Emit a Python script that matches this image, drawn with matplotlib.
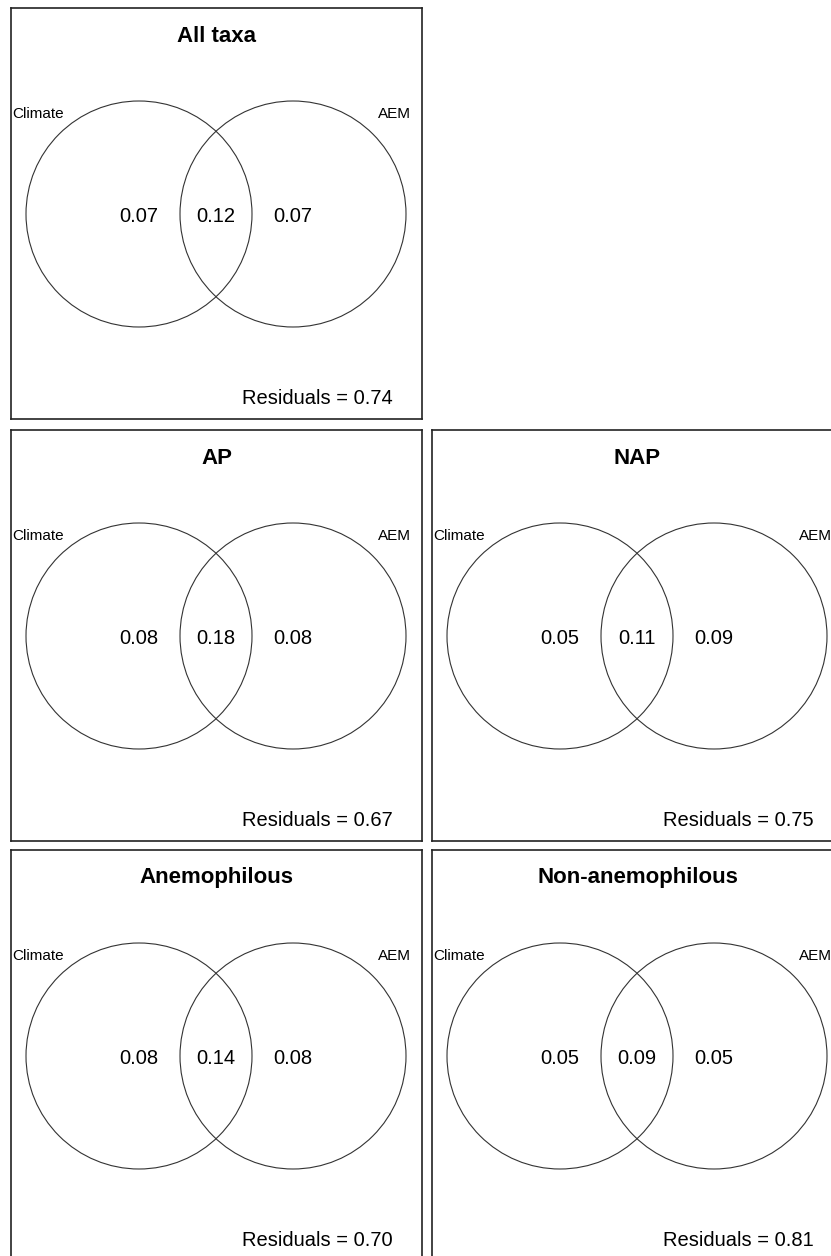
import matplotlib.pyplot as plt
from matplotlib.patches import Circle

plt.rcParams['font.family'] = ['Liberation Sans', 'DejaVu Sans']

# variation partitioning results per pollen group
titles = ["All taxa", "AP", "NAP", "Anemophilous", "Non-anemophilous"]
climate_only = [0.07, 0.08, 0.05, 0.08, 0.05]
shared = [0.12, 0.18, 0.11, 0.14, 0.09]
aem_only = [0.07, 0.08, 0.09, 0.08, 0.05]
residuals = [0.74, 0.67, 0.75, 0.70, 0.81]
set_names = ["Climate", "AEM"]

# top-left pixel corner of each panel box
corners = [(11, 8), (11, 430), (432, 430), (11, 850), (432, 850)]
box = 411
W, H = 831, 1256

fig = plt.figure(figsize=(W / 100, H / 100), dpi=100)

for i, title in enumerate(titles):
    x0, y0 = corners[i]
    ax = fig.add_axes([x0 / W, 1 - (y0 + box) / H, box / W, box / H])
    ax.set_xlim(0, box)
    ax.set_ylim(box, 0)
    ax.set_xticks([])
    ax.set_yticks([])
    for s in ax.spines.values():
        s.set_linewidth(1.2)
        s.set_color('#222222')

    r = 113
    cy = 206
    cx_left, cx_right = 128, 282
    for cx in (cx_left, cx_right):
        ax.add_patch(Circle((cx, cy), r, fill=False, lw=0.8, ec='#333333'))

    ax.text(box / 2, 28, title, ha='center', va='center', fontsize=16,
            fontweight='bold')
    ax.text(1, 106, set_names[0], ha='left', va='center', fontsize=11)
    ax.text(399.5, 106, set_names[1], ha='right', va='center', fontsize=11)

    ax.text(cx_left, 208, f"{climate_only[i]:.2f}", ha='center', va='center', fontsize=14.5)
    ax.text((cx_left + cx_right) / 2, 208, f"{shared[i]:.2f}", ha='center', va='center', fontsize=14.5)
    ax.text(cx_right, 208, f"{aem_only[i]:.2f}", ha='center', va='center', fontsize=14.5)
    ax.text(382, 390, f"Residuals = {residuals[i]:.2f}", ha='right', va='center', fontsize=14.5)

fig.savefig("out.png", dpi=100)
